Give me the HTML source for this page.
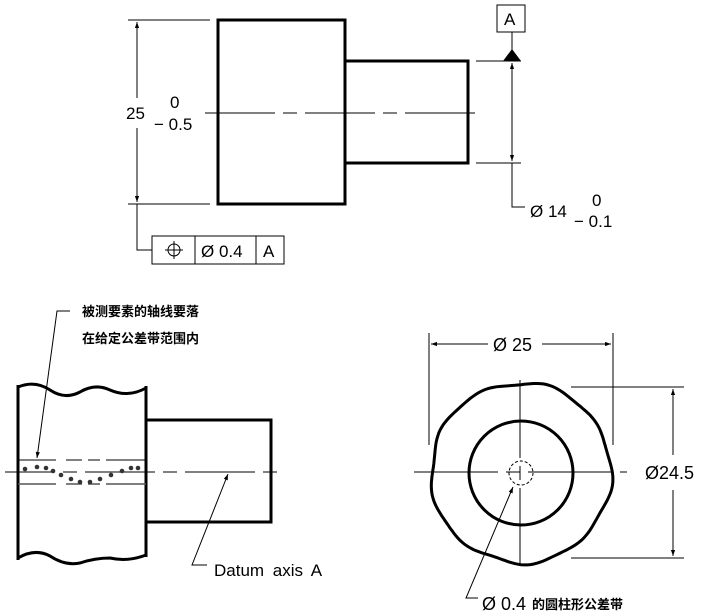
<!DOCTYPE html>
<html><head><meta charset="utf-8"><style>
html,body{margin:0;padding:0;background:#fff;}
svg{display:block;}
text{font-family:"Liberation Sans","Noto Sans CJK SC",sans-serif;fill:#000;}
</style></head><body>
<svg width="711" height="615" viewBox="0 0 711 615" xmlns="http://www.w3.org/2000/svg">
<defs>
<marker id="a" viewBox="0 0 10 10" refX="10" refY="5" markerWidth="10" markerHeight="6" orient="auto-start-reverse" markerUnits="userSpaceOnUse"><path d="M0,1.5 L10,5 L0,8.5 z" fill="#000"/></marker>
</defs>
<!-- TOP VIEW -->
<g fill="none" stroke="#000">
<rect x="218" y="20" width="127" height="184" stroke-width="3"/>
<rect x="345" y="61" width="123" height="102" stroke-width="3"/>
<line x1="205" y1="113" x2="483" y2="113" stroke-width="1" stroke-dasharray="70,8,14,8"/>
<line x1="128" y1="20" x2="210" y2="20" stroke-width="1"/>
<line x1="128" y1="204" x2="210" y2="204" stroke-width="1"/>
<line x1="137" y1="22" x2="137" y2="98" stroke-width="1" marker-start="url(#a)"/>
<line x1="137" y1="128" x2="137" y2="202" stroke-width="1" marker-end="url(#a)"/>
<polyline points="137,204 137,250 152,250" stroke-width="1"/>
<rect x="152" y="236" width="132" height="28" stroke-width="1"/>
<line x1="195" y1="236" x2="195" y2="264" stroke-width="1"/>
<line x1="256" y1="236" x2="256" y2="264" stroke-width="1"/>
<circle cx="174" cy="250" r="6" stroke-width="1"/>
<line x1="165" y1="250" x2="183" y2="250" stroke-width="1"/>
<line x1="174" y1="241" x2="174" y2="259" stroke-width="1"/>
<line x1="476" y1="61" x2="521" y2="61" stroke-width="1"/>
<line x1="476" y1="163" x2="521" y2="163" stroke-width="1"/>
<line x1="512" y1="63" x2="512" y2="161" stroke-width="1" marker-start="url(#a)" marker-end="url(#a)"/>
<polyline points="512,163 512,207 525,207" stroke-width="1"/>
<line x1="512" y1="32" x2="512" y2="50" stroke-width="1"/>
<rect x="497" y="5" width="28" height="27" stroke-width="1"/>
</g>
<path d="M503,61 L512,49 L521,61 z" fill="#000"/>
<text x="126" y="119" font-size="17">25</text>
<text x="170" y="108" font-size="17">0</text>
<text x="154" y="130" font-size="17">− 0.5</text>
<text x="201" y="257" font-size="17">Ø 0.4</text>
<text x="263" y="257" font-size="17">A</text>
<text x="504" y="25" font-size="17">A</text>
<text x="530" y="217" font-size="17">Ø 14</text>
<text x="592" y="206" font-size="17">0</text>
<text x="574" y="227" font-size="17">− 0.1</text>

<!-- BOTTOM LEFT -->
<g fill="none" stroke="#000">
<path d="M18,387 Q35,380 50,390 Q65,400 80,392 Q95,383 110,390 Q128,398 146,388" stroke-width="3"/>
<path d="M18,558 Q35,548 50,556 Q65,566 80,563 Q95,558 110,558 Q128,562 146,555" stroke-width="3"/>
<line x1="18" y1="385" x2="18" y2="560" stroke-width="3"/>
<line x1="146" y1="386" x2="146" y2="557" stroke-width="3"/>
<polyline points="146,420 271,420 271,522 146,522" stroke-width="3"/>
<line x1="5" y1="472" x2="285" y2="472" stroke-width="1" stroke-dasharray="70,8,14,8" stroke-dashoffset="-80"/>
<line x1="18" y1="460" x2="146" y2="460" stroke-width="1" stroke-dasharray="38,10,16,6,12,6,40"/>
<line x1="18" y1="484" x2="146" y2="484" stroke="#555" stroke-width="1.5" stroke-dasharray="38,10,16,6,12,6,40"/>
<polyline points="70,311 57,311 37,458" stroke-width="1" marker-end="url(#a)"/>
<polyline points="207,565 192,565 228,474" stroke-width="1" marker-end="url(#a)"/>
</g>
<g fill="#333">
<circle cx="25" cy="469" r="2.3"/><circle cx="37" cy="467" r="2.3"/><circle cx="46" cy="468" r="2.3"/><circle cx="53" cy="471" r="2.3"/><circle cx="61" cy="475" r="2.3"/><circle cx="71" cy="479" r="2.3"/><circle cx="80" cy="482" r="2.3"/><circle cx="90" cy="482" r="2.3"/><circle cx="100" cy="479" r="2.3"/><circle cx="111" cy="475" r="2.3"/><circle cx="122" cy="471" r="2.3"/><circle cx="131" cy="468" r="2.3"/><circle cx="138" cy="468" r="2.3"/>
</g>
<text x="82" y="316" font-size="13" font-weight="bold">被测要素的轴线要落</text>
<text x="82" y="343" font-size="13" font-weight="bold">在给定公差带范围内</text>
<text x="214" y="576" font-size="17" word-spacing="4">Datum axis A</text>

<!-- BOTTOM RIGHT -->
<g fill="none" stroke="#000">
<path id="wavy" d="" stroke-width="3"/>
<circle cx="521" cy="473" r="52" stroke-width="3"/>
<circle cx="521" cy="473" r="12" stroke-width="1" stroke-dasharray="3,2"/>
<line x1="520" y1="380" x2="520" y2="568" stroke-width="1" stroke-dasharray="78,8,14,8"/>
<line x1="414" y1="472" x2="627" y2="472" stroke-width="1" stroke-dasharray="84,8,14,8"/>
<line x1="429" y1="333" x2="429" y2="445" stroke-width="1"/>
<line x1="613" y1="333" x2="613" y2="445" stroke-width="1"/>
<line x1="431" y1="344" x2="488" y2="344" stroke-width="1" marker-start="url(#a)"/>
<line x1="542" y1="344" x2="611" y2="344" stroke-width="1" marker-end="url(#a)"/>
<line x1="571" y1="387" x2="684" y2="387" stroke-width="1"/>
<line x1="571" y1="558" x2="684" y2="558" stroke-width="1"/>
<line x1="673" y1="389" x2="673" y2="455" stroke-width="1" marker-start="url(#a)"/>
<line x1="673" y1="490" x2="673" y2="556" stroke-width="1" marker-end="url(#a)"/>
<polyline points="478,598 466,598 513,487" stroke-width="1" marker-end="url(#a)"/>
</g>
<text x="493" y="351" font-size="18">Ø 25</text>
<text x="645" y="479" font-size="18">Ø24.5</text>
<text x="482" y="610" font-size="18">Ø 0.4</text>
<text x="532" y="609" font-size="13" font-weight="bold">的圆柱形公差带</text>
</svg>
<script>
(function(){var cx=521,cy=473,d="";for(var i=0;i<=180;i++){var t=i/180*2*Math.PI;var r=90+1.3*Math.sin(9*t+0.5)+1*Math.sin(5*t+1);var x=cx+r*Math.cos(t),y=cy+r*Math.sin(t);d+=(i?"L":"M")+x.toFixed(1)+","+y.toFixed(1);}document.getElementById("wavy").setAttribute("d",d+"Z");})();
</script>
</body></html>
